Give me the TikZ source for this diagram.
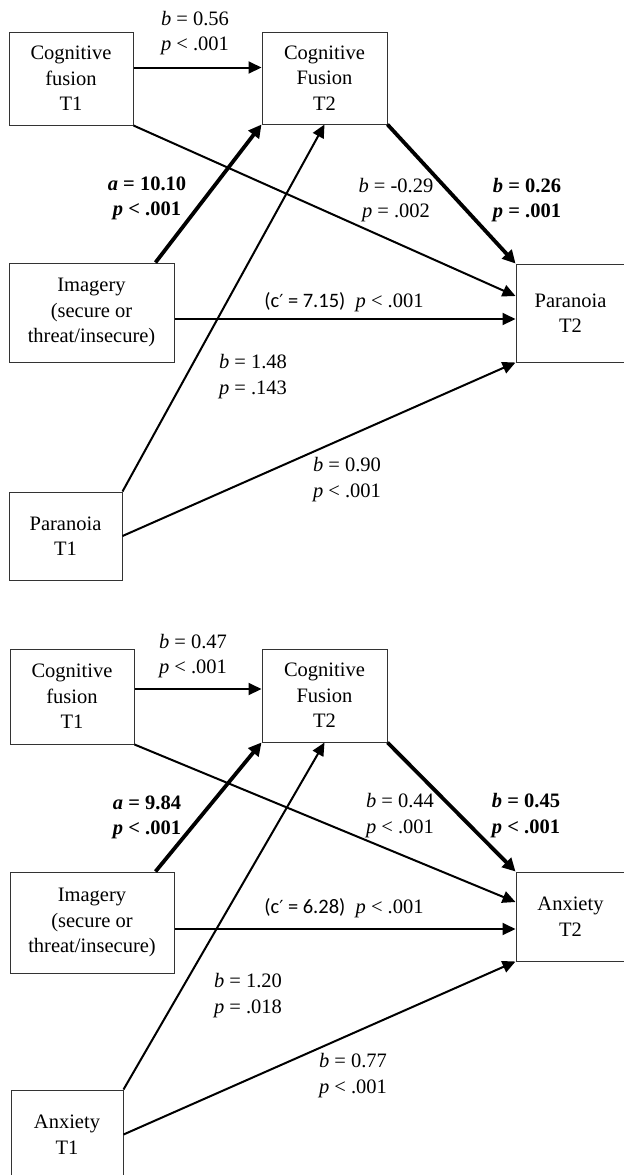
\documentclass[tikz,border=0pt]{standalone}
\usepackage{fontspec}
\setmainfont{Liberation Serif}
\newfontfamily\calfont{Carlito}
\newfontfamily\primefont{DejaVu Sans}
\usetikzlibrary{arrows.meta}

\begin{document}
\begin{tikzpicture}[x=0.5pt,y=-0.5pt,
  varbox/.style={draw=black!80,line width=0.5pt,align=center,inner sep=0pt,font=\fontsize{10.25pt}{12.75pt}\selectfont},
  coef/.style={align=center,inner sep=0pt,font=\fontsize{10.25pt}{12.75pt}\selectfont},
  thinpath/.style={line width=1pt,-{Triangle[length=6.5pt,width=6pt]}},
  thickpath/.style={line width=1.9pt,-{Triangle[length=6.5pt,width=6.5pt]}}]
  \useasboundingbox (0,0) rectangle (624,1175);

  %top
  \node[varbox,minimum width=62pt,minimum height=46.5pt,at={(71,78.5)}] (cft1) {Cognitive\\fusion\\T1};
  \node[varbox,minimum width=62.5pt,minimum height=46pt,at={(324.5,78)}] (cft2) {Cognitive\\Fusion\\T2};
  \node[varbox,minimum width=82.5pt,minimum height=49.5pt,at={(91.5,312.5)}] (img) {Imagery\\(secure or\\threat/insecure)};
  \node[varbox,minimum width=54.5pt,minimum height=49pt,at={(570.5,313)}] (par2) {Paranoia\\T2};
  \node[varbox,minimum width=56.5pt,minimum height=44pt,at={(65.5,536)}] (par1) {Paranoia\\T1};

  \draw[thinpath] ([yshift=5.5pt]cft1.east) -- ([yshift=5.5pt]cft1.east -| cft2.west);
  \draw[thickpath] ([xshift=-9.5pt]img.north east) -- (cft2.south west);
  \draw[thinpath] (cft1.south east) -- ([yshift=8.5pt]par2.west);
  \draw[thickpath] (cft2.south east) -- (par2.north west);
  \draw[thinpath] ([yshift=-3.25pt]img.east) -- ([yshift=-3.25pt]img.east -| par2.west);
  \draw[thinpath] (par1.north east) -- (cft2.south);
  \draw[thinpath] (par1.east) -- (par2.south west);

  \node[coef,at={(195,33)}] (lb1) {\textit{b} = 0.56\\\textit{p} < .001};
  \node[coef,at={(147,198.5)}] (la1) {\textbf{\textit{a} = 10.10}\\\textbf{\textit{p} < .001}};
  \node[coef,at={(396,200)}] (lc1) {\textit{b} = -0.29\\\textit{p} = .002};
  \node[coef,at={(527,200)}] (ld1) {\textbf{\textit{b} = 0.26}\\\textbf{\textit{p} = .001}};
  \node[coef,at={(344,302)}] (le1) {{\calfont (c{\primefont\small ′} = 7.15)}\enspace\textit{p} < .001};
  \node[coef,at={(253,376.5)}] (lf1) {\textit{b} = 1.48\\\textit{p} = .143};
  \node[coef,at={(347,479.5)}] (lg1) {\textit{b} = 0.90\\\textit{p} < .001};

  %bottom
  \node[varbox,minimum width=62pt,minimum height=47.5pt,at={(72,696.5)}] (cft1b) {Cognitive\\fusion\\T1};
  \node[varbox,minimum width=62.5pt,minimum height=46.5pt,at={(324.5,695.5)}] (cft2b) {Cognitive\\Fusion\\T2};
  \node[varbox,minimum width=82pt,minimum height=50.5pt,at={(92,922.5)}] (imgb) {Imagery\\(secure or\\threat/insecure)};
  \node[varbox,minimum width=54.5pt,minimum height=44.5pt,at={(570.5,916.5)}] (anx2) {Anxiety\\T2};
  \node[varbox,minimum width=56pt,minimum height=44.5pt,at={(67,1134.5)}] (anx1) {Anxiety\\T1};

  \draw[thinpath] ([yshift=3.75pt]cft1b.east) -- ([yshift=3.75pt]cft1b.east -| cft2b.west);
  \draw[thickpath] ([xshift=-9.5pt]imgb.north east) -- (cft2b.south west);
  \draw[thinpath] (cft1b.south east) -- ([yshift=7.25pt]anx2.west);
  \draw[thickpath] (cft2b.south east) -- (anx2.north west);
  \draw[thinpath] ([yshift=-3.25pt]imgb.east) -- ([yshift=-3.25pt]imgb.east -| anx2.west);
  \draw[thinpath] (anx1.north east) -- (cft2b.south);
  \draw[thinpath] (anx1.east) -- (anx2.south west);

  \node[coef,at={(193,656)}] (lb2) {\textit{b} = 0.47\\\textit{p} < .001};
  \node[coef,at={(147,817.5)}] (la2) {\textbf{\textit{a} = 9.84}\\\textbf{\textit{p} < .001}};
  \node[coef,at={(400,815.5)}] (lc2) {\textit{b} = 0.44\\\textit{p} < .001};
  \node[coef,at={(526,815.5)}] (ld2) {\textbf{\textit{b} = 0.45}\\\textbf{\textit{p} < .001}};
  \node[coef,at={(344,908)}] (le2) {{\calfont (c{\primefont\small ′} = 6.28)}\enspace\textit{p} < .001};
  \node[coef,at={(248,995.5)}] (lf2) {\textit{b} = 1.20\\\textit{p} = .018};
  \node[coef,at={(353,1075.5)}] (lg2) {\textit{b} = 0.77\\\textit{p} < .001};
\end{tikzpicture}
\end{document}
